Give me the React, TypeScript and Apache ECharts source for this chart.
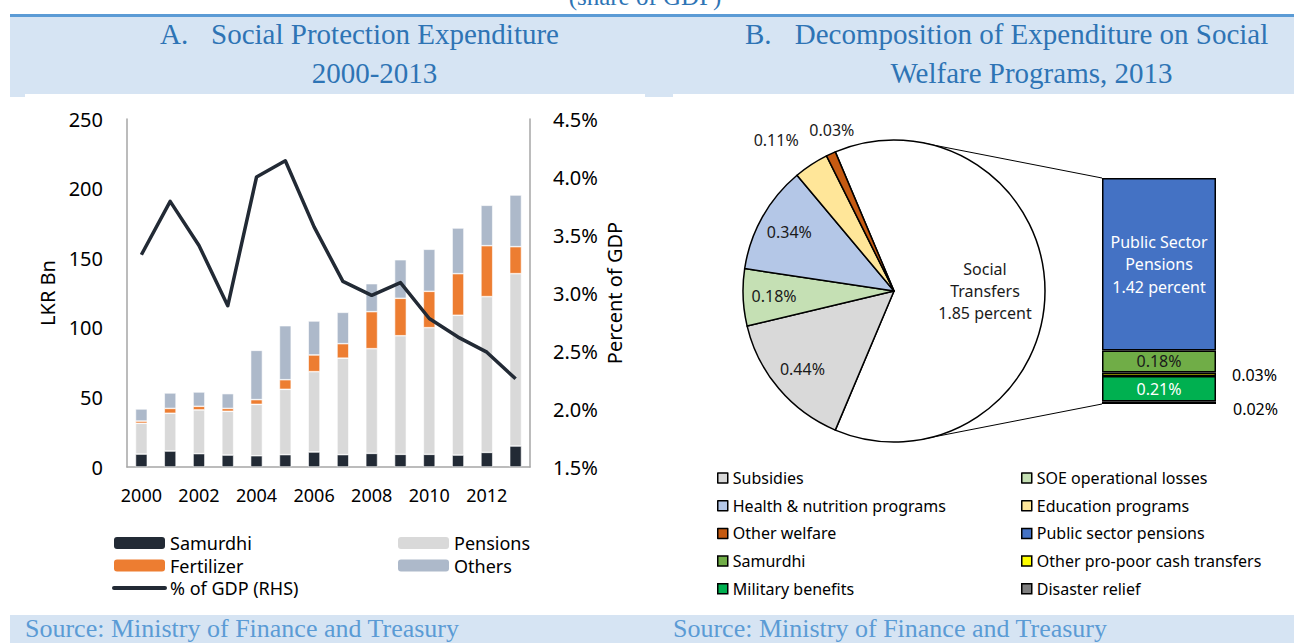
import React, { useEffect, useRef } from "react";
import * as echarts from "echarts";

// ---------- Panel A data ----------
const years = ["2000", "2001", "2002", "2003", "2004", "2005", "2006", "2007", "2008", "2009", "2010", "2011", "2012", "2013"];
const samurdhi = [9.3, 11.5, 9.6, 8.6, 8.1, 8.9, 10.8, 8.9, 9.8, 9.1, 9.1, 8.6, 10.5, 15.1];
const pensions = [22.1, 27.1, 31.4, 31.4, 36.9, 46.9, 57.7, 69.3, 75.2, 85.2, 91.0, 100.4, 111.9, 123.8];
const fertilizer = [1.6, 3.5, 2.6, 2.1, 3.4, 6.9, 12.0, 10.4, 26.6, 26.9, 26.1, 29.9, 36.6, 19.4];
const others = [8.7, 11.1, 10.3, 10.6, 35.4, 38.8, 24.4, 22.5, 20.1, 27.7, 30.2, 32.8, 29.0, 37.1];
const gdpShare = [3.33, 3.79, 3.41, 2.89, 4.0, 4.14, 3.57, 3.1, 2.98, 3.09, 2.78, 2.62, 2.49, 2.26];
const leftAxis = { min: 0, max: 250, step: 50 };
const rightAxis = { min: 1.5, max: 4.5, step: 0.5 };

// ---------- Panel B data ----------
const pieNames = ["Social Transfers", "Subsidies", "SOE operational losses", "Health & nutrition programs", "Education programs", "Other welfare"];
const pieValues = [1.85, 0.44, 0.18, 0.34, 0.11, 0.03];
const pieColors = ["#ffffff", "#d9d9d9", "#c5e0b4", "#b4c7e7", "#ffe699", "#c55a11"];

const bopNames = ["Disaster relief", "Military benefits", "Other pro-poor cash transfers", "Samurdhi", "Public sector pensions"];
const bopValues = [0.02, 0.21, 0.03, 0.18, 1.42];
const bopColors = ["#7f7f7f", "#00b050", "#ffff00", "#70ad47", "#4472c4"];

const FONT = "'Noto Sans', 'DejaVu Sans', sans-serif";
const SERIF = "'Liberation Serif', 'Times New Roman', serif";
const TITLE_BLUE = "#2e74b5";
const SRC_BLUE = "#5b9bd5";
const BAND = "#d6e4f3";

export default function App() {
  const ref = useRef<HTMLDivElement>(null);

  useEffect(() => {
    if (!ref.current) return;
    const chart = echarts.init(ref.current, undefined, { renderer: "svg" });

    const pieTotal = pieValues.reduce((a, b) => a + b, 0);
    const startAngle = (pieValues[0] / pieTotal) * 360 / 2;
    const bopTotal = bopValues.reduce((a, b) => a + b, 0);
    const pieCenter = [894, 291];

    const barStyle = (c: string) => ({ color: c, borderColor: "#ffffff", borderWidth: 0.6 });

    const labelOffsets: Record<string, number[]> = {
      "Social Transfers": [-29, 0],
      "Education programs": [-52, -51],
      "Other welfare": [-12, -52],
    };

    const pct = (p: any) => p.value.toFixed(2) + "%";
    const bopLabel: Record<string, any> = {
      "Disaster relief": { show: true, position: "right", distance: 17, offset: [0, 6], color: "#000", formatter: pct },
      "Military benefits": { show: true, position: "inside", color: "#ffffff", formatter: pct },
      "Other pro-poor cash transfers": { show: true, position: "right", distance: 16, offset: [0, 1], color: "#000", formatter: pct },
      Samurdhi: { show: true, position: "inside", color: "#1a1a1a", formatter: pct },
      "Public sector pensions": {
        show: true, position: "inside", color: "#ffffff", lineHeight: 22.5,
        formatter: (p: any) => "Public Sector\nPensions\n" + p.value.toFixed(2) + " percent",
      },
    };

    const titleFont = `29px ${SERIF}`;

    const option: any = {
      animation: false,
      backgroundColor: "#ffffff",
      textStyle: { fontFamily: FONT },
      grid: [
        { left: 127, top: 119, width: 403, height: 348 },
        { left: 1102, top: 178, width: 114, height: 226 },
      ],
      xAxis: [
        {
          type: "category", gridIndex: 0, data: years,
          axisLine: { lineStyle: { color: "#a6a6a6", width: 1.5 } },
          axisTick: { show: false },
          axisLabel: { interval: 1, fontSize: 18, color: "#000", margin: 19, fontFamily: FONT },
        },
        { type: "category", gridIndex: 1, data: ["2013"], show: false },
      ],
      yAxis: [
        {
          type: "value", gridIndex: 0, min: leftAxis.min, max: leftAxis.max, interval: leftAxis.step,
          axisLine: { show: true, lineStyle: { color: "#a6a6a6", width: 1.5 } },
          axisTick: { show: false }, splitLine: { show: false },
          axisLabel: { fontSize: 20, color: "#000", margin: 24, fontFamily: FONT },
          name: "LKR Bn", nameLocation: "middle", nameGap: 70, nameRotate: 90,
          nameTextStyle: { fontSize: 20, color: "#000", fontFamily: FONT },
        },
        {
          type: "value", gridIndex: 0, position: "right", min: rightAxis.min, max: rightAxis.max, interval: rightAxis.step,
          axisLine: { show: true, lineStyle: { color: "#a6a6a6", width: 1.5 } },
          axisTick: { show: false }, splitLine: { show: false },
          axisLabel: { fontSize: 20, color: "#000", margin: 23, fontFamily: FONT, formatter: (v: number) => v.toFixed(1) + "%" },
          name: "Percent of GDP", nameLocation: "middle", nameGap: 74, nameRotate: 90,
          nameTextStyle: { fontSize: 20, color: "#000", fontFamily: FONT },
        },
        { type: "value", gridIndex: 1, min: 0, max: bopTotal, show: false },
      ],
      legend: [
        {
          orient: "vertical", left: 112, top: 533, padding: 0, itemWidth: 51, itemHeight: 12, itemGap: 2.5,
          selectedMode: false, itemStyle: { borderWidth: 0 },
          textStyle: { fontSize: 18, lineHeight: 20, color: "#000", fontFamily: FONT },
          data: [
            "Samurdhi", "Fertilizer",
            { name: "% of GDP (RHS)", lineStyle: { width: 4, cap: "round" }, itemStyle: { opacity: 0 } },
          ],
        },
        {
          orient: "vertical", left: 398, top: 533, padding: 0, itemWidth: 51, itemHeight: 12, itemGap: 2.5,
          selectedMode: false, itemStyle: { borderWidth: 0 },
          textStyle: { fontSize: 18, lineHeight: 20, color: "#000", fontFamily: FONT },
          data: ["Pensions", "Others"],
        },
        {
          orient: "vertical", left: 717, top: 468, padding: 0, itemWidth: 10, itemHeight: 10, itemGap: 7.7,
          selectedMode: false, icon: "rect", itemStyle: { borderColor: "#000", borderWidth: 1.5 },
          textStyle: { fontSize: 16, lineHeight: 20, color: "#000", fontFamily: FONT },
          data: [
            "Subsidies", "Health & nutrition programs", "Other welfare",
            { name: "Samurdhi", itemStyle: { color: bopColors[3], borderColor: "#000", borderWidth: 1.5 } },
            "Military benefits",
          ],
        },
        {
          orient: "vertical", left: 1021, top: 468, padding: 0, itemWidth: 10, itemHeight: 10, itemGap: 7.7,
          selectedMode: false, icon: "rect", itemStyle: { borderColor: "#000", borderWidth: 1.5 },
          textStyle: { fontSize: 16, lineHeight: 20, color: "#000", fontFamily: FONT },
          data: ["SOE operational losses", "Education programs", "Public sector pensions", "Other pro-poor cash transfers", "Disaster relief"],
        },
      ],
      series: [
        { name: "Samurdhi", type: "bar", stack: "a", xAxisIndex: 0, yAxisIndex: 0, barWidth: "41%", itemStyle: barStyle("#222a35"), data: samurdhi, silent: true },
        { name: "Pensions", type: "bar", stack: "a", xAxisIndex: 0, yAxisIndex: 0, barWidth: "41%", itemStyle: barStyle("#d9d9d9"), data: pensions, silent: true },
        { name: "Fertilizer", type: "bar", stack: "a", xAxisIndex: 0, yAxisIndex: 0, barWidth: "41%", itemStyle: barStyle("#ed7d31"), data: fertilizer, silent: true },
        { name: "Others", type: "bar", stack: "a", xAxisIndex: 0, yAxisIndex: 0, barWidth: "41%", itemStyle: barStyle("#adb9ca"), data: others, silent: true },
        {
          name: "% of GDP (RHS)", type: "line", xAxisIndex: 0, yAxisIndex: 1, data: gdpShare, symbol: "none", showSymbol: false, silent: true,
          lineStyle: { color: "#222a35", width: 3.5, join: "round" }, itemStyle: { color: "#222a35" },
        },
        {
          name: "Decomposition", type: "pie", center: pieCenter, radius: 151, startAngle, clockwise: true,
          avoidLabelOverlap: false, silent: true,
          label: { show: false }, labelLine: { show: false },
          itemStyle: { borderColor: "#000", borderWidth: 1.5 },
          data: pieNames.map((n, i) => ({ name: n, value: pieValues[i], itemStyle: { color: pieColors[i] } })),
        },
        {
          name: "DecompositionLabels", type: "pie", center: pieCenter, radius: 234, startAngle, clockwise: true,
          avoidLabelOverlap: false, silent: true, z: 3,
          labelLine: { show: false },
          itemStyle: { color: "rgba(0,0,0,0)", borderWidth: 0 },
          label: {
            show: true, position: "inside", fontSize: 16, color: "#1a1a1a", fontFamily: FONT, lineHeight: 22,
            formatter: (p: any) => (p.name === "Social Transfers" ? "Social\nTransfers\n" + p.value.toFixed(2) + " percent" : p.value.toFixed(2) + "%"),
          },
          data: pieNames.map((n, i) => ({
            name: n, value: pieValues[i],
            label: labelOffsets[n] ? { offset: labelOffsets[n] } : undefined,
          })),
        },
        ...bopNames.map((n, i) => ({
          name: n, type: "bar", stack: "bop", xAxisIndex: 1, yAxisIndex: 2, barWidth: "100%", silent: true,
          itemStyle: { color: bopColors[i], borderColor: "#000", borderWidth: 1.5 },
          label: { fontSize: 16, fontFamily: FONT, ...bopLabel[n] },
          data: [bopValues[i]],
        })),
      ],
      graphic: [
        { type: "rect", silent: true, z: -10, shape: { x: 10, y: 14, width: 1284, height: 3 }, style: { fill: SRC_BLUE } },
        { type: "rect", silent: true, z: -10, shape: { x: 10, y: 17, width: 1284, height: 77 }, style: { fill: BAND } },
        { type: "rect", silent: true, z: -10, shape: { x: 10, y: 94, width: 15, height: 3 }, style: { fill: BAND } },
        { type: "rect", silent: true, z: -10, shape: { x: 645, y: 94, width: 28, height: 3 }, style: { fill: BAND } },
        { type: "rect", silent: true, z: -10, shape: { x: 10, y: 615, width: 1284, height: 28 }, style: { fill: BAND } },
        { type: "text", silent: true, x: 645, y: 9, style: { text: "(share of GDP)", font: `25px ${SERIF}`, fill: TITLE_BLUE, align: "center", verticalAlign: "bottom" } },
        { type: "text", silent: true, x: 160, y: 34, style: { text: "A.", font: titleFont, fill: TITLE_BLUE, align: "left", verticalAlign: "middle" } },
        { type: "text", silent: true, x: 385, y: 34, style: { text: "Social Protection Expenditure", font: titleFont, fill: TITLE_BLUE, align: "center", verticalAlign: "middle" } },
        { type: "text", silent: true, x: 374.5, y: 73, style: { text: "2000-2013", font: titleFont, fill: TITLE_BLUE, align: "center", verticalAlign: "middle" } },
        { type: "text", silent: true, x: 745, y: 34, style: { text: "B.", font: titleFont, fill: TITLE_BLUE, align: "left", verticalAlign: "middle" } },
        { type: "text", silent: true, x: 1031.5, y: 34, style: { text: "Decomposition of Expenditure on Social", font: titleFont, fill: TITLE_BLUE, align: "center", verticalAlign: "middle" } },
        { type: "text", silent: true, x: 1031.5, y: 73, style: { text: "Welfare Programs, 2013", font: titleFont, fill: TITLE_BLUE, align: "center", verticalAlign: "middle" } },
        { type: "text", silent: true, x: 25, y: 628, style: { text: "Source: Ministry of Finance and Treasury", font: `26px ${SERIF}`, fill: SRC_BLUE, align: "left", verticalAlign: "middle" } },
        { type: "text", silent: true, x: 673, y: 628, style: { text: "Source: Ministry of Finance and Treasury", font: `26px ${SERIF}`, fill: SRC_BLUE, align: "left", verticalAlign: "middle" } },
        { type: "line", silent: true, shape: { x1: 923, y1: 143, x2: 1102, y2: 178 }, style: { stroke: "#000", lineWidth: 1 } },
        { type: "line", silent: true, shape: { x1: 923, y1: 439, x2: 1102, y2: 404 }, style: { stroke: "#000", lineWidth: 1 } },
      ],
    };

    chart.setOption(option);
    return () => chart.dispose();
  }, []);

  return (
    <div
      ref={ref}
      style={{ position: "fixed", left: 0, top: 0, width: 1294, height: 643, background: "#ffffff" }}
    />
  );
}
